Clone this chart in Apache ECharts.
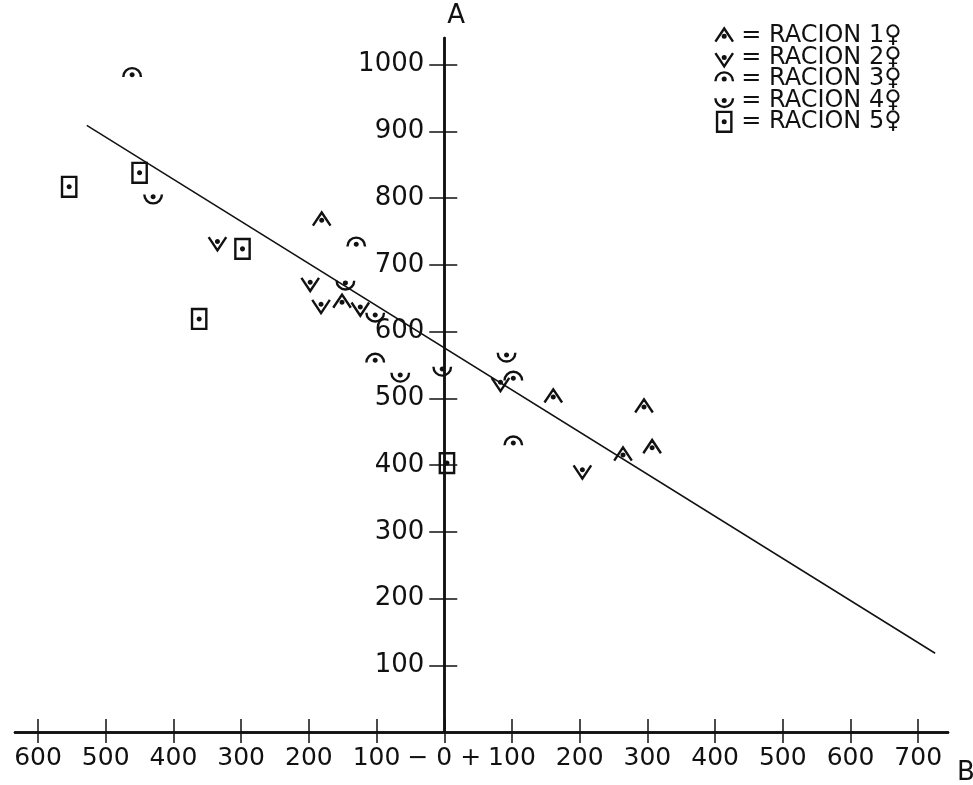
<!DOCTYPE html>
<html>
<head>
<meta charset="utf-8">
<script src="https://cdn.jsdelivr.net/npm/echarts@6.0.0/dist/echarts.min.js"></script>
<style>
  html, body { margin: 0; padding: 0; background: #fff; }
  #chart { width: 973px; height: 785px; }
</style>
</head>
<body>
<div id="chart"></div>
<script>
  // ticks
  var xTicks = [-600, -500, -400, -300, -200, -100, 0, 100, 200, 300, 400, 500, 600, 700];
  var yTicks = [100, 200, 300, 400, 500, 600, 700, 800, 900, 1000];

  // puntos [B, A]
  var racion1 = [[-181, 767], [-151, 644], [161, 502], [295, 487], [307, 426], [264, 415]];
  var racion2 = [[-335, 735], [-198, 674], [-182, 641], [-124, 637], [83, 524], [204, 393]];
  var racion3 = [[-461, 985], [-130, 731], [-102, 557], [102, 530], [102, 433]];
  var racion4 = [[-430, 802], [-146, 673], [-102, 625], [-65, 535], [-3, 544], [92, 565]];
  var racion5 = [[-554, 817], [-450, 838], [-298, 724], [-362, 619], [4, 403]];

  // recta de regresion
  var regresion = [[-528, 909], [725, 118]];

  var names = ['= RACION 1♀', '= RACION 2♀', '= RACION 3♀', '= RACION 4♀', '= RACION 5♀'];

  var dot = 'M8.8,10a1.2,1.2 0 1,0 2.4,0a1.2,1.2 0 1,0 -2.4,0';
  var box = 'M0,0M20,20';
  var symbols = [
    'path://' + box + 'M2,15L10,3L18,15' + dot,
    'path://' + box + 'M2,6L10,18L18,6' + dot,
    'path://' + box + 'M2,12A8,8 0 0,1 18,12' + dot,
    'path://' + box + 'M2,8A8,8 0 0,0 18,8' + dot,
    'path://' + box + 'M3.5,1L16.5,1L16.5,19L3.5,19Z' + dot
  ];
  var groups = [racion1, racion2, racion3, racion4, racion5];

  var font = 'DejaVu Sans';
  var ink = '#111';
  var gridLeft = 15;
  var gridRight = 25;
  var width = 973;

  var chart = echarts.init(document.getElementById('chart'));

  var series = [{
    type: 'line',
    data: regresion,
    symbol: 'none',
    silent: true,
    lineStyle: { color: ink, width: 1.5 },
    z: 1
  }];
  groups.forEach(function(g, i) {
    series.push({
      name: names[i],
      type: 'scatter',
      data: g,
      symbol: symbols[i],
      symbolSize: 22,
      itemStyle: { color: 'transparent', borderColor: ink, borderWidth: 2.4, opacity: 1 },
      z: 3
    });
  });

  function xLabel(v) {
    if (v === 0) return '− 0 +';
    return String(Math.abs(v));
  }

  chart.setOption({
    animation: false,
    backgroundColor: '#fff',
    textStyle: { fontFamily: font },
    grid: {
      left: gridLeft,
      right: gridRight,
      top: 38,
      bottom: 53,
      containLabel: false,
      outerBoundsMode: 'none'
    },
    legend: {
      orient: 'vertical',
      left: 707,
      top: 19,
      itemWidth: 24,
      itemHeight: 22,
      itemGap: -3,
      selectedMode: false,
      textStyle: { fontSize: 24, color: ink, fontFamily: font },
      itemStyle: { color: 'transparent', borderColor: ink, borderWidth: 2.4, opacity: 1 },
      data: names.map(function(n, i) { return { name: n, icon: symbols[i] }; })
    },
    xAxis: [{
      type: 'value',
      position: 'bottom',
      min: -634,
      max: 744,
      name: 'B',
      nameLocation: 'end',
      nameGap: 9,
      nameTextStyle: { fontSize: 26, color: ink, verticalAlign: 'top', padding: [28, 0, 0, 0] },
      axisLine: { onZero: true, lineStyle: { color: ink, width: 2.5 } },
      axisTick: { show: true, inside: false, length: 11, customValues: xTicks, lineStyle: { color: ink, width: 1.5 } },
      axisLabel: { customValues: xTicks, formatter: xLabel, fontSize: 25, color: ink, margin: 14 },
      splitLine: { show: false }
    }, {
      type: 'value',
      position: 'top',
      min: -634,
      max: 744,
      axisLine: { show: true, onZero: true, lineStyle: { color: ink, width: 2.5 } },
      axisTick: { show: true, inside: false, length: 13, customValues: xTicks, lineStyle: { color: ink, width: 1.5 } },
      axisLabel: { show: false },
      splitLine: { show: false }
    }],
    yAxis: [{
      type: 'value',
      position: 'left',
      offset: 0,
      min: 0,
      max: 1040,
      name: 'A',
      nameLocation: 'end',
      nameGap: 9,
      nameTextStyle: { fontSize: 26, color: ink, padding: [0, 0, 0, 24] },
      axisLine: { onZero: false, lineStyle: { color: ink, width: 2.5 } },
      axisTick: { show: true, inside: false, length: 15, customValues: yTicks, lineStyle: { color: ink, width: 1.5 } },
      axisLabel: { customValues: yTicks, formatter: function(v) { return String(v); }, fontSize: 26, color: ink, margin: 20 },
      splitLine: { show: false }
    }, {
      type: 'value',
      position: 'right',
      offset: 0,
      min: 0,
      max: 1040,
      axisLine: { show: true, onZero: false, lineStyle: { color: ink, width: 2.5 } },
      axisTick: { show: true, inside: false, length: 13, customValues: yTicks, lineStyle: { color: ink, width: 1.5 } },
      axisLabel: { show: false },
      splitLine: { show: false }
    }],
    series: series
  });

  // eje A sobre B = 0
  var zeroX = chart.convertToPixel({ xAxisIndex: 0 }, 0);
  chart.setOption({
    yAxis: [
      { offset: -(zeroX - gridLeft) },
      { offset: -(width - gridRight - zeroX) }
    ]
  });
</script>
</body>
</html>
